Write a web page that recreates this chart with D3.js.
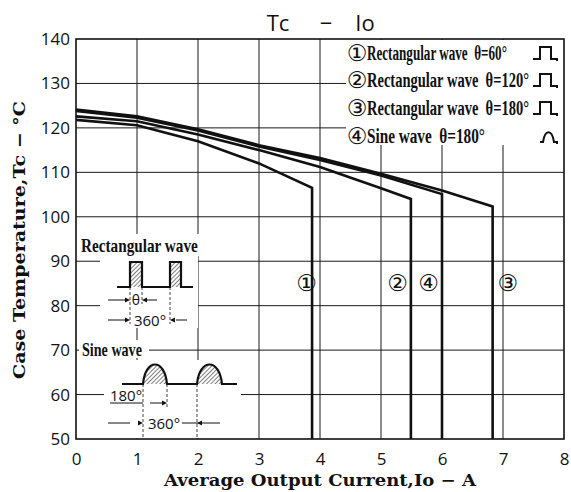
<!DOCTYPE html>
<html><head><meta charset="utf-8">
<script src="https://cdn.jsdelivr.net/npm/d3@7"></script>
<style>
html,body{margin:0;padding:0;background:#fff;}
svg{display:block;}
</style></head>
<body>
<svg id="chart" width="571" height="492"></svg>
<script>
// ---- data ----
const xTicks = [0,1,2,3,4,5,6,7,8];
const yTicks = [50,60,70,80,90,100,110,120,130,140];
const seriesNames = ["Rectangular wave  θ=60°","Rectangular wave  θ=120°","Rectangular wave  θ=180°","Sine wave  θ=180°"];
const seriesMarks = ["①","②","③","④"];
// curve points (Io in A, Tc in °C); last point is the drop-off to the axis
const c1X = [0, 1, 2, 3, 3.87, 3.87];
const c1Y = [121.8, 120.6, 117, 112, 106.5, 50];
const c2X = [0, 1, 2, 3, 4, 5, 5.49, 5.49];
const c2Y = [122.6, 121.5, 118.5, 115, 111.2, 106.4, 104, 50];
const c3X = [0, 1, 2, 3, 4, 5, 6, 6.83, 6.83];
const c3Y = [124.1, 122.6, 119.7, 116.1, 113.2, 109.7, 105.9, 102.3, 50];
const c4X = [0, 1, 2, 3, 4, 5, 6, 6];
const c4Y = [123.8, 122.3, 119.4, 115.8, 112.8, 109.3, 105.1, 50];
const labelX = [3.78, 5.27, 7.08, 5.78];
const labelY = [85, 85, 85, 85];

const svg = d3.select("#chart");
const m = {l:76, r:564, t:39, b:439};
const x = d3.scaleLinear().domain([0,8]).range([m.l, m.r]);
const y = d3.scaleLinear().domain([50,140]).range([m.b, m.t]);

// condensed text helper: scale horizontally to a target width
function condensed(g, tx, ty, txt, size, width){
  const t = g.append("text").attr("xml:space","preserve")
    .attr("font-family","'Liberation Serif', serif").attr("font-weight","bold")
    .attr("font-size",size).attr("fill","#111").text(txt);
  const w = t.node().getComputedTextLength();
  const s = width / w;
  t.attr("transform",`translate(${tx},${ty}) scale(${s},1)`);
  return t;
}

const defs = svg.append("defs");
const pat = defs.append("pattern").attr("id","hatch").attr("patternUnits","userSpaceOnUse")
  .attr("width",3).attr("height",3).attr("patternTransform","rotate(45)");
pat.append("line").attr("x1",0).attr("y1",0).attr("x2",0).attr("y2",3).attr("stroke","#111").attr("stroke-width",1.1);

// gridlines
const grid = svg.append("g");
grid.selectAll(".hg").data(yTicks.slice(1,-1)).join("line")
  .attr("x1",m.l).attr("x2",m.r).attr("y1",d=>y(d)).attr("y2",d=>y(d))
  .attr("stroke","#1a1a1a").attr("stroke-width",1);
grid.selectAll(".vg").data(xTicks.slice(1,-1)).join("line")
  .attr("y1",m.t).attr("y2",m.b).attr("x1",d=>x(d)).attr("x2",d=>x(d))
  .attr("stroke","#1a1a1a").attr("stroke-width",1);

// white masks (legend & insets)
const masks = [[346,40,218,105],[79,234,121,22],[100,256,98,72],[79,340,70,18],[104,360,137,78]];
svg.append("g").selectAll("rect").data(masks).join("rect")
  .attr("x",d=>d[0]).attr("y",d=>d[1]).attr("width",d=>d[2]).attr("height",d=>d[3]).attr("fill","#fff");

// frame
svg.append("rect").attr("x",m.l).attr("y",m.t).attr("width",m.r-m.l).attr("height",m.b-m.t)
  .attr("fill","none").attr("stroke","#111").attr("stroke-width",1.6);

// axes tick labels
const xa = d3.axisBottom(x).tickValues(xTicks).tickSize(0).tickPadding(14);
svg.append("g").attr("transform",`translate(0,${m.b})`).call(xa)
  .call(g=>g.select(".domain").remove())
  .selectAll("text").attr("font-family","'Open Sans', sans-serif").attr("font-size",17).attr("fill","#111");
const ya = d3.axisLeft(y).tickValues(yTicks).tickSize(0).tickPadding(6);
svg.append("g").attr("transform",`translate(${m.l},0)`).call(ya)
  .call(g=>g.select(".domain").remove())
  .selectAll("text").attr("font-family","'Open Sans', sans-serif").attr("font-size",17).attr("fill","#111");

// curves
const line = d3.line().x(d=>x(d[0])).y(d=>y(d[1]));
const curves = [[c1X,c1Y],[c2X,c2Y],[c3X,c3Y],[c4X,c4Y]].map(([xs,ys])=>xs.map((v,i)=>[v,ys[i]]));
svg.append("g").selectAll("path").data(curves).join("path")
  .attr("d",line).attr("fill","none").attr("stroke","#111").attr("stroke-width",2.6)
  .attr("stroke-linejoin","miter");

// curve labels
svg.append("g").selectAll("text").data(seriesMarks).join("text")
  .attr("x",(d,i)=>x(labelX[i])).attr("y",(d,i)=>y(labelY[i]))
  .attr("text-anchor","middle").attr("dominant-baseline","central")
  .attr("font-family","'DejaVu Sans', sans-serif").attr("font-size",23).attr("fill","#111")
  .text(d=>d);

// title
const tg = svg.append("g").attr("font-family","'Open Sans', sans-serif").attr("font-size",22).attr("fill","#111");
tg.append("text").attr("x",278).attr("y",31).attr("text-anchor","middle").text("Tc");
tg.append("text").attr("x",326).attr("y",31).attr("text-anchor","middle").text("−");
tg.append("text").attr("x",365).attr("y",31).attr("text-anchor","middle").text("Io");

// axis titles
svg.append("text").attr("x",320).attr("y",486).attr("text-anchor","middle")
  .attr("font-family","'DejaVu Serif', serif").attr("font-size",17).attr("font-weight","bold")
  .attr("textLength",312).attr("lengthAdjust","spacingAndGlyphs").attr("fill","#111")
  .text("Average Output Current,Io − A");
svg.append("text").attr("transform","translate(25,240) rotate(-90)").attr("text-anchor","middle")
  .attr("font-family","'DejaVu Serif', serif").attr("font-size",17).attr("font-weight","bold")
  .attr("textLength",278).attr("lengthAdjust","spacingAndGlyphs").attr("fill","#111")
  .text("Case Temperature,Tc − °C");

// legend
const legY = [53, 80, 108, 136];
const legW = [140, 162, 162, 118];
const lg = svg.append("g");
seriesNames.forEach((n,i)=>{
  lg.append("text").attr("x",357).attr("y",legY[i]).attr("dominant-baseline","central")
    .attr("text-anchor","middle").attr("font-family","'DejaVu Sans', sans-serif").attr("font-size",23)
    .attr("fill","#111").text(seriesMarks[i]);
  condensed(lg, 367, legY[i]+7, n, 20, legW[i]);
  const yb = legY[i]+6, yt = legY[i]-6;
  let p;
  if(i<3){ p = `M533,${yb} H540 V${yt} H551 V${yb} H557 V${yb+2}`; }
  else { p = `M540,${yb} H543 C545,${yt-1} 552,${yt-1} 554,${yb} H557 V${yb+2}`; }
  lg.append("path").attr("d",p).attr("fill","none").attr("stroke","#111").attr("stroke-width",2);
});

// inset: rectangular wave
const ins = svg.append("g").attr("fill","#111");
condensed(ins, 81, 252, "Rectangular wave", 18, 117);
[[130,142],[170,181]].forEach(([a,b])=>{
  ins.append("rect").attr("x",a).attr("y",262).attr("width",b-a).attr("height",25).attr("fill","url(#hatch)");
});
ins.append("path").attr("d","M117,287 H130 V262 H142 V287 H170 V262 H181 V287 H193")
  .attr("fill","none").attr("stroke","#111").attr("stroke-width",2.2);
ins.append("path").attr("d","M130,287 V324 M142,287 V304 M170,287 V324")
  .attr("fill","none").attr("stroke","#111").attr("stroke-width",0.8).attr("stroke-dasharray","3,2");
// theta arrows
ins.append("path").attr("d","M108,300 H126 M146,300 H157 M108,320 H126 M176,320 H187")
  .attr("fill","none").attr("stroke","#111").attr("stroke-width",1);
ins.append("path").attr("d","M130,300 l-5,-2.5 v5 z M142,300 l5,-2.5 v5 z M130,320 l-5,-2.5 v5 z M170,320 l5,-2.5 v5 z");
ins.append("text").attr("x",136).attr("y",305).attr("text-anchor","middle").attr("font-family","'Open Sans', sans-serif")
  .attr("font-size",14).text("θ");
ins.append("text").attr("x",150).attr("y",326).attr("text-anchor","middle").attr("font-family","'Open Sans', sans-serif")
  .attr("font-size",15).text("360°");

// inset: sine wave
condensed(ins, 82, 356, "Sine wave", 18, 60);
[[143,167],[197,222]].forEach(([a,b])=>{
  const w=b-a;
  ins.append("path").attr("d",`M${a},384 C${a+w*0.1},358 ${a+w*0.9},358 ${b},384 Z`).attr("fill","url(#hatch)");
});
ins.append("path").attr("d","M122,384 H143 C145.4,358 164.6,358 167,384 H197 C199.5,358 219.5,358 222,384 H237")
  .attr("fill","none").attr("stroke","#111").attr("stroke-width",2.2);
ins.append("path").attr("d","M143,384 V437 M167,384 V408 M197,384 V437")
  .attr("fill","none").attr("stroke","#111").attr("stroke-width",0.8).attr("stroke-dasharray","3,2");
ins.append("path").attr("d","M110,403 H143 M150,403 H165 M108,423 H130 M182,423 H220")
  .attr("fill","none").attr("stroke","#111").attr("stroke-width",1);
ins.append("path").attr("d","M167,403 l-5,-2.5 v5 z M143,423 l-5,-2.5 v5 z M197,423 l5,-2.5 v5 z");
ins.append("text").attr("x",126).attr("y",401).attr("text-anchor","middle").attr("font-family","'Open Sans', sans-serif")
  .attr("font-size",15).text("180°");
ins.append("text").attr("x",164).attr("y",429).attr("text-anchor","middle").attr("font-family","'Open Sans', sans-serif")
  .attr("font-size",15).text("360°");
</script>
</body></html>
